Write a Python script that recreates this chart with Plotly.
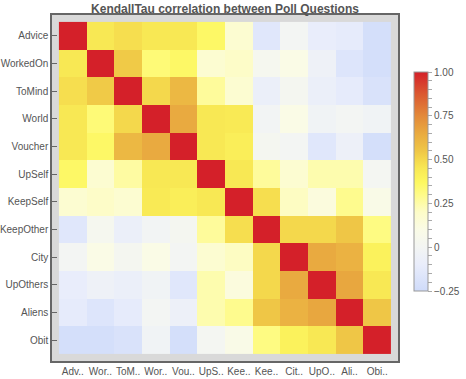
import plotly.graph_objects as go

questions = ["Advice", "WorkedOn", "ToMind", "World", "Voucher", "UpSelf",
             "KeepSelf", "KeepOther", "City", "UpOthers", "Aliens", "Obit"]
short_labels = ["Adv..", "Wor..", "ToM..", "Wor..", "Vou..", "UpS..",
                "Kee..", "Kee..", "Cit..", "UpO..", "Ali..", "Obi.."]

row_advice = [1, 0.45, 0.48, 0.45, 0.45, 0.36, 0.17, -0.15, 0.0, -0.1, -0.12, -0.22]
row_workedon = [0.45, 1, 0.54, 0.33, 0.36, 0.17, 0.2, 0.03, 0.1, -0.05, -0.17, -0.22]
row_tomind = [0.48, 0.54, 1, 0.5, 0.6, 0.27, 0.17, -0.08, 0.02, -0.08, -0.12, -0.19]
row_world = [0.45, 0.33, 0.5, 1, 0.65, 0.45, 0.44, -0.01, 0.1, -0.03, 0.0, -0.03]
row_voucher = [0.45, 0.36, 0.6, 0.65, 1, 0.45, 0.42, 0.02, 0.0, -0.15, -0.06, -0.22]
row_upself = [0.36, 0.17, 0.26, 0.45, 0.45, 1, 0.45, 0.27, 0.17, 0.24, 0.24, 0.01]
row_keepself = [0.17, 0.2, 0.17, 0.44, 0.42, 0.45, 1, 0.48, 0.21, 0.13, 0.29, 0.09]
row_keepother = [-0.15, 0.03, -0.08, -0.01, 0.02, 0.27, 0.48, 1, 0.5, 0.5, 0.55, 0.31]
row_city = [0.0, 0.1, 0.02, 0.1, 0.0, 0.17, 0.21, 0.5, 1, 0.65, 0.62, 0.4]
row_upothers = [-0.1, -0.05, -0.08, -0.03, -0.15, 0.24, 0.13, 0.5, 0.65, 1, 0.66, 0.45]
row_aliens = [-0.12, -0.17, -0.12, 0.0, -0.06, 0.24, 0.29, 0.55, 0.62, 0.66, 1, 0.55]
row_obit = [-0.22, -0.22, -0.19, -0.03, -0.22, 0.01, 0.09, 0.31, 0.4, 0.45, 0.55, 1]

z = [row_advice, row_workedon, row_tomind, row_world, row_voucher, row_upself,
     row_keepself, row_keepother, row_city, row_upothers, row_aliens, row_obit]

cb_major = [1.0, 0.75, 0.5, 0.25, 0.0, -0.25]
cb_major_text = ["1.00", "0.75", "0.50", "0.25", "0", "\u22120.25"]

zmin, zmax = -0.25, 1.0
def n(v):
    return (v - zmin) / (zmax - zmin)

colorscale = [
    [n(-0.25), "#cfdbfa"],
    [n(-0.1), "#e9edfb"],
    [n(0.0), "#f3f5f3"],
    [n(0.1), "#fafbe6"],
    [n(0.2), "#fdfcc8"],
    [n(0.3), "#fefb88"],
    [n(0.37), "#fdf860"],
    [n(0.45), "#f8e854"],
    [n(0.5), "#f4d84c"],
    [n(0.55), "#efc646"],
    [n(0.65), "#e9aa40"],
    [n(0.75), "#e3893a"],
    [n(0.87), "#db5a31"],
    [n(1.0), "#d42029"],
]

tickvals = []
ticktext = []
for i in range(26):
    val = round(-0.25 + i * 0.05, 2)
    tickvals.append(val)
    if val in cb_major:
        ticktext.append(cb_major_text[cb_major.index(val)])
    else:
        ticktext.append("")

font_family = "Liberation Sans, Arial, sans-serif"
grey_text = "#555555"

fig = go.Figure(go.Heatmap(
    z=z, x=questions, y=questions,
    zmin=zmin, zmax=zmax,
    colorscale=colorscale,
    xgap=0, ygap=0,
    colorbar=dict(
        thickness=14, thicknessmode="pixels",
        len=219, lenmode="pixels",
        x=(414 - 52) / 346, xanchor="left",
        y=(361 - 181.5) / 346, yanchor="middle",
        xpad=0, ypad=0,
        outlinecolor="#999999", outlinewidth=1,
        tickmode="array", tickvals=tickvals, ticktext=ticktext,
        ticks="outside", ticklen=4, tickcolor="#aaaaaa", tickwidth=1,
        tickfont=dict(family=font_family, size=10, color=grey_text),
    ),
))

fig.update_layout(
    width=466, height=379,
    margin=dict(l=52, r=68, t=15, b=18, autoexpand=False),
    paper_bgcolor="white",
    plot_bgcolor="#d9d9d9",
    title=dict(text="<b>KendallTau correlation between Poll Questions</b>",
               x=225 / 466, xanchor="center", y=1 - 8.5 / 379, yanchor="middle",
               font=dict(family=font_family, size=12, color=grey_text)),
    font=dict(family=font_family, size=10, color=grey_text),
)
fig.update_xaxes(
    type="category", range=[-0.75, 11.75],
    tickmode="array", tickvals=questions, ticktext=short_labels,
    showline=True, mirror=True, linecolor="#666666", linewidth=1.5,
    ticks="", showgrid=False, zeroline=False,
    tickfont=dict(family=font_family, size=10, color=grey_text),
    automargin=False,
)
fig.update_yaxes(
    type="category", range=[11.75, -0.75],
    tickmode="array", tickvals=questions, ticktext=questions,
    showline=True, mirror=True, linecolor="#666666", linewidth=1.5,
    ticks="inside", ticklen=5, tickcolor="#666666", tickwidth=1,
    showgrid=False, zeroline=False,
    tickfont=dict(family=font_family, size=10, color=grey_text),
    automargin=False,
)

fig.write_html(
    "out.html",
    config={"displayModeBar": False},
    post_script="document.body.style.margin='0';document.body.style.padding='0';",
)
